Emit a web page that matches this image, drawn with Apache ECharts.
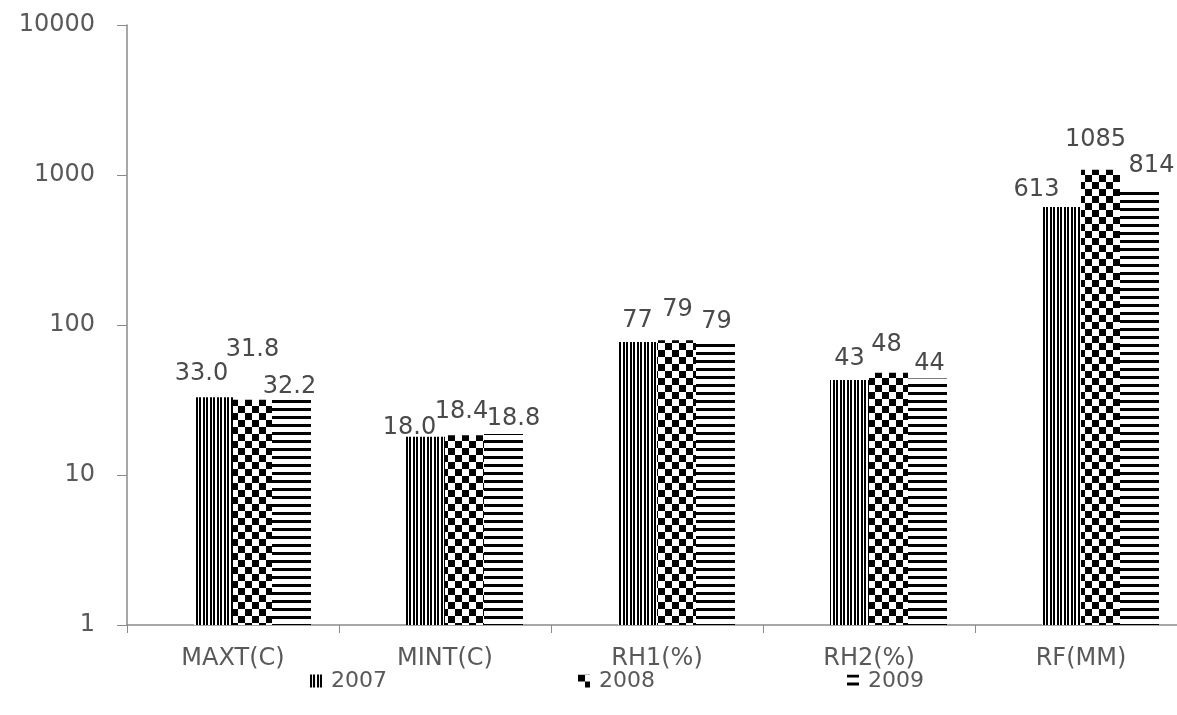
<!DOCTYPE html>
<html>
<head>
<meta charset="utf-8">
<script src="https://cdn.jsdelivr.net/npm/echarts@6/dist/echarts.min.js"></script>
<style>html,body{margin:0;padding:0;background:#fff;overflow:hidden}#c{width:1190px;height:715px}</style>
</head>
<body>
<div id="c"></div>
<script>
const categories = ['MAXT(C)', 'MINT(C)', 'RH1(%)', 'RH2(%)', 'RF(MM)'];
const years = ['2007', '2008', '2009'];
const v2007 = [33.0, 18.0, 77, 43, 613];
const v2008 = [31.8, 18.4, 79, 48, 1085];
const v2009 = [32.2, 18.8, 79, 44, 814];
const labelDecimals = [1, 1, 0, 0, 0];
const yTicks = [1, 10, 100, 1000, 10000];

// label nudges (styling only)
const off2007 = [[-12, -11], [-16, 3], [0, -9], [0, -9], [-25, -5]];
const off2008 = [[0, -38], [-3, -12], [1, -19], [-2, -16], [-5, -18]];
const off2009 = [[-2, 0], [10, -3], [1, -7], [2, -3], [12, -11]];

function tile(w, h, draw) {
  const c = document.createElement('canvas');
  c.width = w; c.height = h;
  const g = c.getContext('2d');
  g.fillStyle = '#fff'; g.fillRect(0, 0, w, h);
  g.fillStyle = '#000';
  draw(g);
  return { image: c, repeat: 'repeat' };
}
const patVert = tile(7, 4, g => { g.fillRect(0, 0, 2, 4); g.fillRect(3, 0, 2, 4); });
const patCheck = tile(14, 14, g => { g.fillRect(0, 0, 7, 7); g.fillRect(7, 7, 7, 7); });
const patHorz = tile(4, 8, g => { g.fillRect(0, 0, 4, 3); });

const FONT = 'DejaVu Sans';
const TXT = '#595959';

function mk(name, vals, offs, pat) {
  return {
    name: name, type: 'bar', barWidth: 39, barGap: '0%',
    itemStyle: { color: pat },
    data: vals.map((v, i) => ({ value: v, label: { offset: offs[i] } })),
    label: {
      show: true, position: 'top', distance: 0,
      fontFamily: FONT, fontSize: 24, color: '#4a4a4a', lineHeight: 24,
      formatter: p => p.value.toFixed(labelDecimals[p.dataIndex])
    }
  };
}

const chart = echarts.init(document.getElementById('c'), null, { renderer: 'canvas' });
const legendPos = [305, 573, 842];
chart.setOption({
  animation: false,
  backgroundColor: '#fff',
  grid: { left: 127, top: 25, right: 3, bottom: 90, containLabel: false },
  legend: years.map((y, i) => ({
    data: [y], left: legendPos[i], top: 665, itemWidth: 12, itemHeight: 13, itemGap: 0,
    icon: 'rect', textStyle: { fontFamily: FONT, fontSize: 22, color: TXT, padding: [0, 0, 0, 4] }
  })),
  xAxis: {
    type: 'category', data: categories,
    axisLine: { lineStyle: { color: '#8a8a8a', width: 1.5 } },
    axisTick: { show: true, length: 8, lineStyle: { color: '#8a8a8a' } },
    axisLabel: { fontFamily: FONT, fontSize: 24, color: TXT, margin: 22 }
  },
  yAxis: {
    type: 'log', logBase: 10, min: yTicks[0], max: yTicks[yTicks.length - 1],
    axisLine: { show: true, lineStyle: { color: '#8a8a8a', width: 1.5 } },
    axisTick: { show: true, length: 10, lineStyle: { color: '#8a8a8a' } },
    splitLine: { show: false },
    axisLabel: { fontFamily: FONT, fontSize: 24, color: TXT, margin: 32, formatter: v => String(Math.round(v)) }
  },
  series: [
    { name: '_', type: 'bar', barWidth: 39, barGap: '0%', data: categories.map(() => '-') },
    mk(years[0], v2007, off2007, patVert),
    mk(years[1], v2008, off2008, patCheck),
    mk(years[2], v2009, off2009, patHorz)
  ]
});
</script>
</body>
</html>
